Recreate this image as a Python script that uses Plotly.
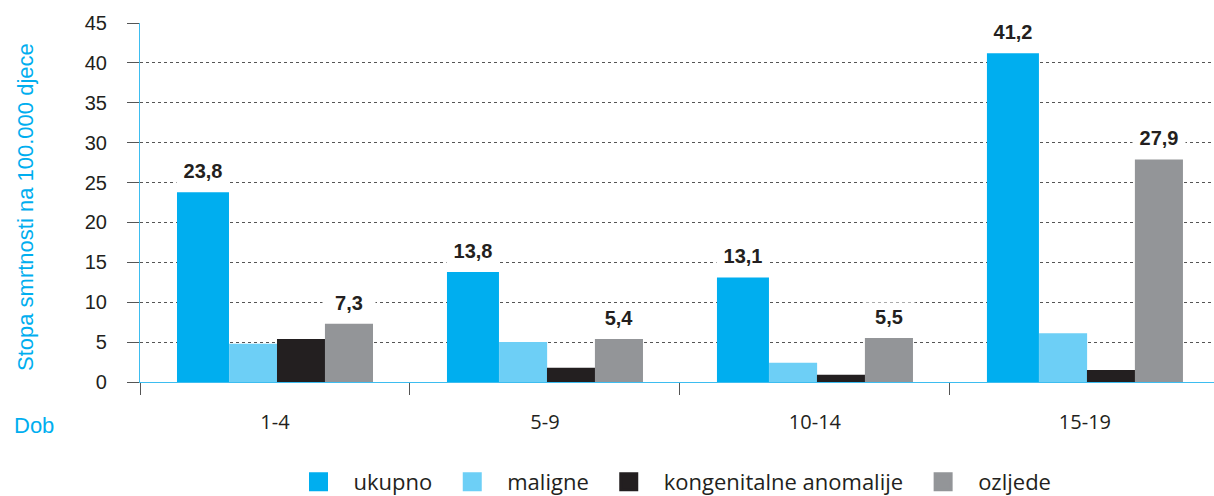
import plotly.graph_objects as go

categories = ["1-4", "5-9", "10-14", "15-19"]
series_names = ["ukupno", "maligne", "kongenitalne anomalije", "ozljede"]
ukupno = [23.8, 13.8, 13.1, 41.2]
maligne = [4.8, 5.0, 2.4, 6.1]
kongenitalne = [5.4, 1.8, 0.9, 1.5]
ozljede = [7.3, 5.4, 5.5, 27.9]
y_ticks = [0, 5, 10, 15, 20, 25, 30, 35, 40, 45]

colors = ["#00aeef", "#6dcff6", "#231f20", "#939598"]
offsets = [-0.363, -0.170, 0.0074, 0.185]
widths = [0.1926, 0.178, 0.178, 0.178]
values = [ukupno, maligne, kongenitalne, ozljede]

W, H = 1214, 496
L, R, T, B = 140, 0, 23, 114
PW, PH = W - L - R, H - T - B

fig = go.Figure()
for name, vals, col, off, w in zip(series_names, values, colors, offsets, widths):
    fig.add_trace(go.Bar(
        x=categories, y=vals, name=name, marker=dict(color=col, line=dict(width=0)),
        offset=off, width=w, hoverinfo="skip", showlegend=False,
    ))
# legend-only entries (bigger square swatches)
for name, col in zip(series_names, colors):
    fig.add_trace(go.Scatter(
        x=[None], y=[None], mode="markers", name=name,
        marker=dict(symbol="square", size=16, color=col, line=dict(color=col, width=3)),
        hoverinfo="skip", showlegend=True,
    ))

label_font = dict(family="Liberation Sans, Arial, sans-serif", size=20, color="#231f20", weight="bold")
for idx, series in ((0, ukupno), (3, ozljede)):
    for i, v in enumerate(series):
        fig.add_annotation(
            x=i + offsets[idx] + widths[idx] / 2, y=v, xref="x", yref="y",
            text=("%.1f" % v).replace(".", ","),
            showarrow=False, yshift=21, yanchor="middle",
            bgcolor="white", width=50, height=26, font=label_font,
        )

cyan_font = dict(family="Liberation Sans, Arial, sans-serif", size=22, color="#00aeef")
fig.add_annotation(
    x=(12 - L) / PW, y=(H - B - 425) / PH, xref="paper", yref="paper", text="Dob", showarrow=False,
    xanchor="left", yanchor="middle", font=cyan_font,
)
fig.add_annotation(
    x=(25 - L) / PW, y=(H - B - 207) / PH, xref="paper", yref="paper",
    text="Stopa smrtnosti na 100.000 djece", showarrow=False, textangle=-90,
    xanchor="center", yanchor="middle", font=cyan_font,
)

fig.update_layout(
    width=W, height=H,
    margin=dict(l=L, r=R, t=T, b=B, pad=0),
    plot_bgcolor="white", paper_bgcolor="white",
    barmode="overlay",
    showlegend=True,
    legend=dict(
        orientation="h", x=0.4935, xanchor="center", xref="paper",
        y=(H - 482) / H, yref="container", yanchor="middle",
        font=dict(family="Open Sans, Liberation Sans, sans-serif", size=22, color="#231f20"),
        itemwidth=60, traceorder="normal",
    ),
    xaxis=dict(
        range=[-0.5, 3.478], showgrid=False, zeroline=False, automargin=False,
        showline=True, linecolor="#3dbdf0", linewidth=1.2,
        ticks="outside", tickson="boundaries", ticklen=12, tickcolor="#555555", tickwidth=1,
        tickfont=dict(family="Open Sans, Liberation Sans, sans-serif", size=20, color="#231f20"),
        ticklabelstandoff=22,
    ),
    yaxis=dict(
        range=[0, 45], tickvals=y_ticks, showgrid=True, gridcolor="#555555", griddash="dot", gridwidth=1,
        zeroline=False, showline=True, linecolor="#3dbdf0", linewidth=1.2, automargin=False,
        ticks="outside", ticklen=12, tickcolor="#555555", tickwidth=1,
        tickfont=dict(family="Liberation Sans, Arial, sans-serif", size=20, color="#231f20"),
        ticklabelstandoff=16,
    ),
)

fig.write_html(
    "out.html",
    config={"displayModeBar": False},
    post_script="document.body.style.margin='0';document.body.style.overflow='hidden';",
)
